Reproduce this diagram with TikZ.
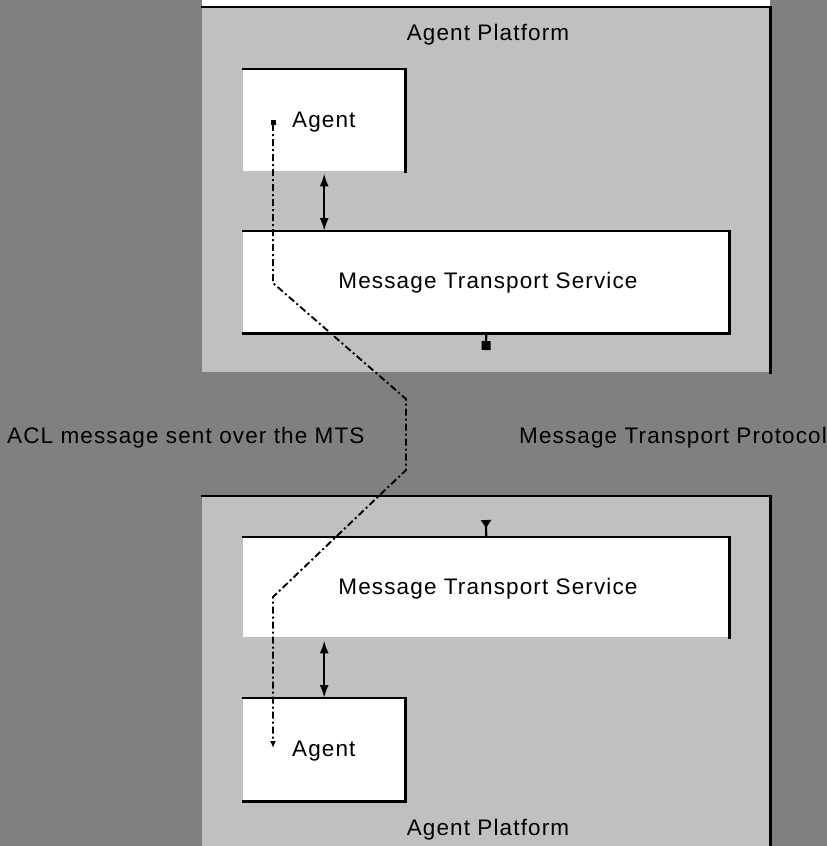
\documentclass[tikz,border=0pt]{standalone}
\usepackage{fontspec}
\setmainfont[LetterSpace=5]{Liberation Sans}
\usetikzlibrary{arrows.meta,calc}
\definecolor{dgray}{HTML}{808080}
\definecolor{lgray}{HTML}{C0C0C0}
\begin{document}
\begin{tikzpicture}[x=1pt,y=-1pt,
  lbl/.style={font=\fontsize{22.5}{26}\selectfont, inner sep=0pt, text=black},
  platform/.style={fill=lgray, inner sep=0pt, anchor=north west},
  wbox/.style={fill=white, inner sep=0pt, anchor=north west},
  edge/.style={line width=2.4pt, line cap=rect},
  link/.style={line width=2.2pt, {Latex[length=13pt,width=9pt]}-{Latex[length=13pt,width=9pt]}},
  msgpath/.style={line width=1.9pt, dash pattern=on 7pt off 3pt on 2pt off 3pt}
]
\useasboundingbox (0,0) rectangle (827,846);
\fill[dgray] (0,0) rectangle (827,846);
\fill[white] (202,0) rectangle (770,7);

% platforms
\node[platform, minimum width=568pt, minimum height=365pt] (ap1) at (202,7) {};
\node[platform, minimum width=568pt, minimum height=360pt] (ap2) at (202,496) {};
\draw[edge] (ap1.north west) -- (ap1.north east) -- (ap1.south east);
\draw[edge] (ap2.north west) -- (ap2.north east) -- (ap2.south east);

% boxes
\node[wbox, minimum width=162pt, minimum height=102pt] (ag1) at (243,69) {};
\node[wbox, minimum width=486pt, minimum height=102pt] (mts1) at (243,231) {};
\node[wbox, minimum width=486pt, minimum height=100pt] (mts2) at (243,537) {};
\node[wbox, minimum width=162pt, minimum height=103pt] (ag2) at (243,698) {};
\draw[edge] (ag1.north west) -- (ag1.north east) -- (ag1.south east);
\draw[edge] (mts1.north west) -- (mts1.north east) -- (mts1.south east) -- (mts1.south west);
\draw[edge] (mts2.north west) -- (mts2.north east) -- (mts2.south east);
\draw[edge] (ag2.north west) -- (ag2.north east) -- (ag2.south east) -- (ag2.south west);

% texts
\node[lbl, anchor=base] (t1) at (488,40) {Agent Platform};
\node[lbl, anchor=base] (t2) at (488,835) {Agent Platform};
\node[lbl, anchor=base west] (ta1) at (292,127) {Agent};
\node[lbl, anchor=base west] (ta2) at (292,756) {Agent};
\node[lbl, anchor=base] (tm1) at (488,288) {Message Transport Service};
\node[lbl, anchor=base] (tm2) at (488,594) {Message Transport Service};
\node[lbl, anchor=base west] (acl) at (7,443) {ACL message sent over the MTS};
\node[lbl, anchor=base west] (mtp) at (519,443) {Message Transport Protocol};

% agent <-> MTS links
\draw[link] ($(ag1.south)+(0,2)$) -- (ag1.south |- mts1.north);
\draw[link] ($(mts2.south)!(ag2.north)!(mts2.south west)$) ++(0,3) -- (ag2.north);

% MTS ports
\coordinate (p1) at (486,350);
\coordinate (p2) at (486,520);
\draw[line width=2.2pt, -{Square[length=9pt,width=9pt]}] (mts1.south) -- (p1);
\draw[line width=2.2pt, -{Triangle[reversed,length=8pt,width=10pt]}] (mts2.north) -- (p2);

% ACL message path
\coordinate (s) at (273,120);
\coordinate (e) at (273,748);
\coordinate (c1) at (273,283);
\coordinate (c2) at (406,399);
\coordinate (c3) at (406,470);
\coordinate (c4) at (273,597);
\draw[msgpath, {Square[length=5pt,width=5pt]}-{Latex[length=7pt,width=6pt]}] (s) -- (c1) -- (c2) -- (c3) -- (c4) -- (e);
\end{tikzpicture}
\end{document}
